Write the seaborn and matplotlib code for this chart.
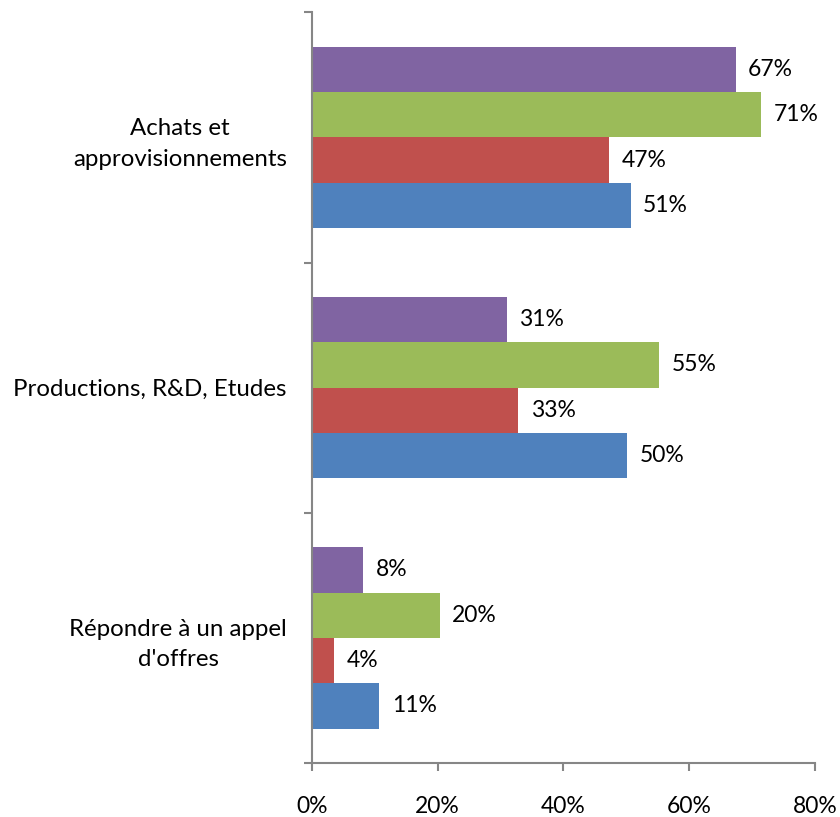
import pandas as pd
import matplotlib.pyplot as plt
import seaborn as sns

# data (bar ends), labels are the rounded values
categories = ["Achats et\napprovisionnements", "Productions, R&D, Etudes",
              "Répondre à un appel\nd'offres"]
series = ["Série 4", "Série 3", "Série 2", "Série 1"]
values_s4 = [67.4, 31.0, 8.1]
values_s3 = [71.4, 55.2, 20.3]
values_s2 = [47.3, 32.8, 3.5]
values_s1 = [50.7, 50.1, 10.7]
colors = ["#8064A2", "#9BBB59", "#C0504D", "#4F81BD"]
xticks = [0, 20, 40, 60, 80]

rows = []
for name, vals in zip(series, [values_s4, values_s3, values_s2, values_s1]):
    for cat, v in zip(categories, vals):
        rows.append({"cat": cat, "serie": name, "val": v})
df = pd.DataFrame(rows)

sns.set_style("white")
plt.rcParams["font.family"] = ["Lato", "DejaVu Sans"]

fig = plt.figure(figsize=(8.4, 8.17), dpi=100)
ax = fig.add_axes([0.3714, 0.066, 0.5988, 0.919])

sns.barplot(data=df, x="val", y="cat", hue="serie", hue_order=series,
            order=categories, palette=colors, orient="h", width=0.725,
            errorbar=None, legend=False, saturation=1, linewidth=0, ax=ax)

# value labels at the end of each bar
for bars in ax.containers:
    ax.bar_label(bars, labels=[f"{round(b.get_width()):d}%" for b in bars],
                 padding=9, fontsize=16.5, color="black")

ax.set_xlim(0, 80)
ax.set_ylim(2.5, -0.5)
ax.set_xticks(xticks)
ax.set_xticklabels([f"{t}%" for t in xticks])
ax.set_xlabel("")
ax.set_ylabel("")

# category labels centred, tick marks between categories (Excel style)
ax.set_yticks([0, 1, 2])
ax.set_yticklabels(categories, multialignment="center", linespacing=1.55)
ax.set_yticks([-0.5, 0.5, 1.5, 2.5], minor=True)
ax.tick_params(axis="y", which="major", length=0, pad=18, labelsize=17.3,
               labelcolor="black")
ax.tick_params(axis="y", which="minor", length=6, width=1.5, color="#868686", left=True)
ax.tick_params(axis="x", length=6, width=1.5, color="#868686", pad=18,
               labelsize=16.5, labelcolor="black", bottom=True)

for side in ["top", "right"]:
    ax.spines[side].set_visible(False)
for side in ["left", "bottom"]:
    ax.spines[side].set_color("#868686")
    ax.spines[side].set_linewidth(1.5)

fig.savefig("out.png", dpi=100)
